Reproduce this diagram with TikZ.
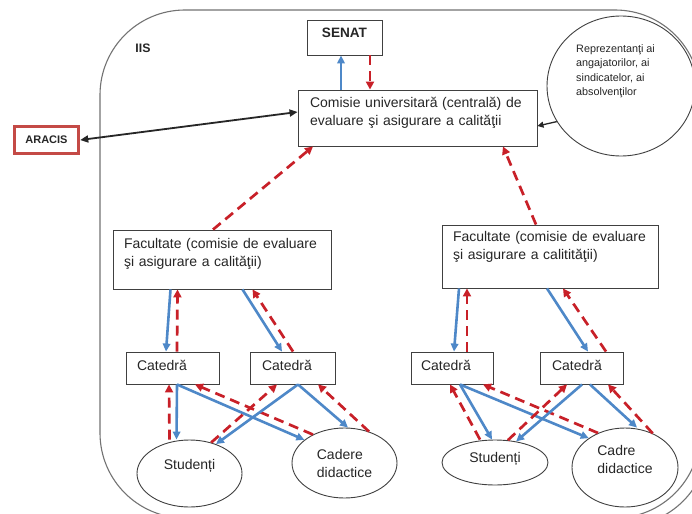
\documentclass[tikz,border=0pt]{standalone}
\usepackage{fontspec}
\setmainfont{Liberation Sans}
\usetikzlibrary{arrows.meta,shapes.geometric}
\definecolor{bluec}{RGB}{78,136,200}
\definecolor{redc}{RGB}{200,32,40}
\definecolor{arac}{RGB}{196,74,70}
\begin{document}
\begin{tikzpicture}[x=1pt,y=-1pt,
    box/.style={draw=black!75, line width=0.9pt, inner ysep=0pt, text=black!85,
        font=\fontsize{14}{18}\selectfont},
    oval/.style={ellipse, draw=black!75, line width=0.9pt, inner sep=0pt, text=black!85,
        font=\fontsize{14}{18}\selectfont},
    blueline/.style={draw=bluec, line width=2.6pt, -{Triangle[length=8pt,width=7.5pt]}},
    redline/.style={draw=redc, line width=2.7pt, dash pattern=on 10pt off 6pt,
        -{Triangle[length=8pt,width=8pt]}},
    blkline/.style={draw=black!85, line width=1.8pt}]
\useasboundingbox (0,0) rectangle (692,513);
\clip (0,0) rectangle (692,513);
\fill[white] (0,0) rectangle (692,513);
% IIS border
\draw[black!55, line width=1.1pt, rounded corners=85pt] (100,10) rectangle (700,518);
\begin{scope}
    \clip (600,400) rectangle (692,513);
    \draw[black!55, line width=1.1pt, rounded corners=85pt] (108,18) rectangle (708,526);
\end{scope}
\draw (143,48) node[font=\fontsize{12.3}{14}\selectfont\bfseries, text=black!85]{IIS};

% top level
\node[box, minimum width=75pt, minimum height=35pt, font=\fontsize{13.6}{16}\selectfont\bfseries]
    (sen) at (344.5,37.5) {SENAT\rule[-9pt]{0pt}{0pt}};
\node[box, minimum height=56pt, inner xsep=12pt, text width=215pt, align=left] (com) at (417.5,118)
    {Comisie universitară (centrală) de\\evaluare şi asigurare a calităţii\rule[-13pt]{0pt}{0pt}};
\node[draw=arac, line width=3.5pt, minimum width=64pt, minimum height=27pt, inner sep=0pt,
    font=\fontsize{11}{12}\selectfont\bfseries, text=black!85] (ara) at (46.5,140) {ARACIS};
\node[ellipse, draw=black!75, line width=0.9pt, minimum width=148pt, minimum height=140pt]
    (rep) at (621,86) {};
\node[anchor=north west, inner sep=0pt, align=left, text=black!85,
    font=\fontsize{10.8}{14.5}\selectfont] (reptxt) at (576,44)
    {Reprezentanţi ai\\angajatorilor, ai\\sindicatelor, ai\\absolvenţilor};

% faculties
\node[box, minimum height=59pt, inner xsep=11pt, text width=196pt, align=left] (facA) at (222,259.5)
    {Facultate (comisie de evaluare\\şi asigurare a calităţii)\rule[-14pt]{0pt}{0pt}};
\node[box, minimum height=63pt, inner xsep=11pt, text width=194pt, align=left] (facB) at (550,256.5)
    {Facultate (comisie de evaluare\\şi asigurare a calitităţii)\rule[-23pt]{0pt}{0pt}};

% departments
\node[box, minimum height=32pt, inner xsep=11pt, text width=71pt, align=left] (catA1) at (172.5,368)
    {Catedră\rule[-6pt]{0pt}{0pt}};
\node[box, minimum height=32pt, inner xsep=12pt, text width=61pt, align=left] (catA2) at (292.5,368)
    {Catedră\rule[-6pt]{0pt}{0pt}};
\node[box, minimum height=32pt, inner xsep=10pt, text width=62pt, align=left] (catB1) at (452,368)
    {Catedră\rule[-6pt]{0pt}{0pt}};
\node[box, minimum height=32pt, inner xsep=12pt, text width=59pt, align=left] (catB2) at (581.5,368)
    {Catedră\rule[-6pt]{0pt}{0pt}};

% students and staff
\node[oval, minimum width=105pt, minimum height=67pt] (stuA) at (189.5,473.5) {Studenți\rule[-18pt]{0pt}{0pt}};
\node[oval, minimum width=105pt, minimum height=70pt, align=left] (cadA) at (344.5,463) {Cadere\\didactice};
\node[oval, minimum width=106pt, minimum height=45pt] (stuB) at (495,462.5) {Studenți\rule[-9.5pt]{0pt}{0pt}};
\node[oval, minimum width=106pt, minimum height=79pt, align=left] (cadB) at (625,467.5)
    {Cadre\\didactice\rule[-16pt]{0pt}{0pt}};

% connectors
\draw[blkline, {Triangle[length=8pt,width=7pt]}-{Triangle[length=8pt,width=7pt]}] (ara.east) -- ([yshift=6pt]com.west);
\draw[blkline, line width=1.3pt, -{Triangle[length=6pt,width=6pt]}] (rep.209) -- ([yshift=-8pt]com.east);
\draw[blueline] ([xshift=-76.5pt]com.north) -- ([xshift=-3.5pt]sen.south);
\draw[redline] ([xshift=25.5pt]sen.south) -- ([xshift=-47.5pt]com.north);
\draw[redline] ([xshift=-9pt]facA.north) -- ([xshift=-104.5pt]com.south);
\draw[redline] ([xshift=-14pt]facB.north) -- ([xshift=85.5pt]com.south);

\draw[blueline] ([xshift=-51.5pt]facA.south) -- ([xshift=-6.5pt]catA1.north);
\draw[redline] ([xshift=4.5pt]catA1.north) -- ([xshift=-44.5pt]facA.south);
\draw[blueline] ([xshift=20.5pt]facA.south) -- ([xshift=-10.5pt]catA2.north);
\draw[redline] ([xshift=0.5pt]catA2.north) -- ([xshift=30.5pt]facA.south);
\draw[blueline] ([xshift=-91pt]facB.south) -- ([xshift=2pt]catB1.north);
\draw[redline] ([xshift=15pt]catB1.north) -- ([xshift=-83pt]facB.south);
\draw[blueline] ([xshift=-3pt]facB.south) -- ([xshift=6.5pt]catB2.north);
\draw[redline] ([xshift=24.5pt]catB2.north) -- ([xshift=13pt]facB.south);

\draw[blueline] ([xshift=4.5pt]catA1.south) -- ([xshift=-13pt]stuA.north);
\draw[redline] ([xshift=-20pt]stuA.north) -- ([xshift=-3.5pt]catA1.south);
\draw[blueline] ([xshift=4.5pt]catA1.south) -- (cadA.150);
\draw[redline] (cadA.138) -- ([xshift=22.5pt]catA1.south);
\draw[blueline] ([xshift=5.5pt]catA2.south) -- (stuA.48);
\draw[redline] (stuA.55) -- ([xshift=-15.5pt]catA2.south);
\draw[blueline] ([xshift=5.5pt]catA2.south) -- ([xshift=3.5pt]cadA.north);
\draw[redline] (cadA.52) -- ([xshift=25.5pt]catA2.south);

\draw[blueline] ([xshift=8pt]catB1.south) -- ([xshift=-3pt]stuB.north);
\draw[redline] ([xshift=-15pt]stuB.north) -- ([xshift=-2pt]catB1.south);
\draw[blueline] ([xshift=8pt]catB1.south) -- (cadB.141);
\draw[redline] (cadB.128) -- ([xshift=31pt]catB1.south);
\draw[blueline] ([xshift=0.5pt]catB2.south) -- (stuB.45);
\draw[redline] (stuB.60) -- ([xshift=-14.5pt]catB2.south);
\draw[blueline] ([xshift=8.5pt]catB2.south) -- ([xshift=12pt]cadB.north);
\draw[redline] (cadB.51) -- ([xshift=26.5pt]catB2.south);
\end{tikzpicture}
\end{document}
